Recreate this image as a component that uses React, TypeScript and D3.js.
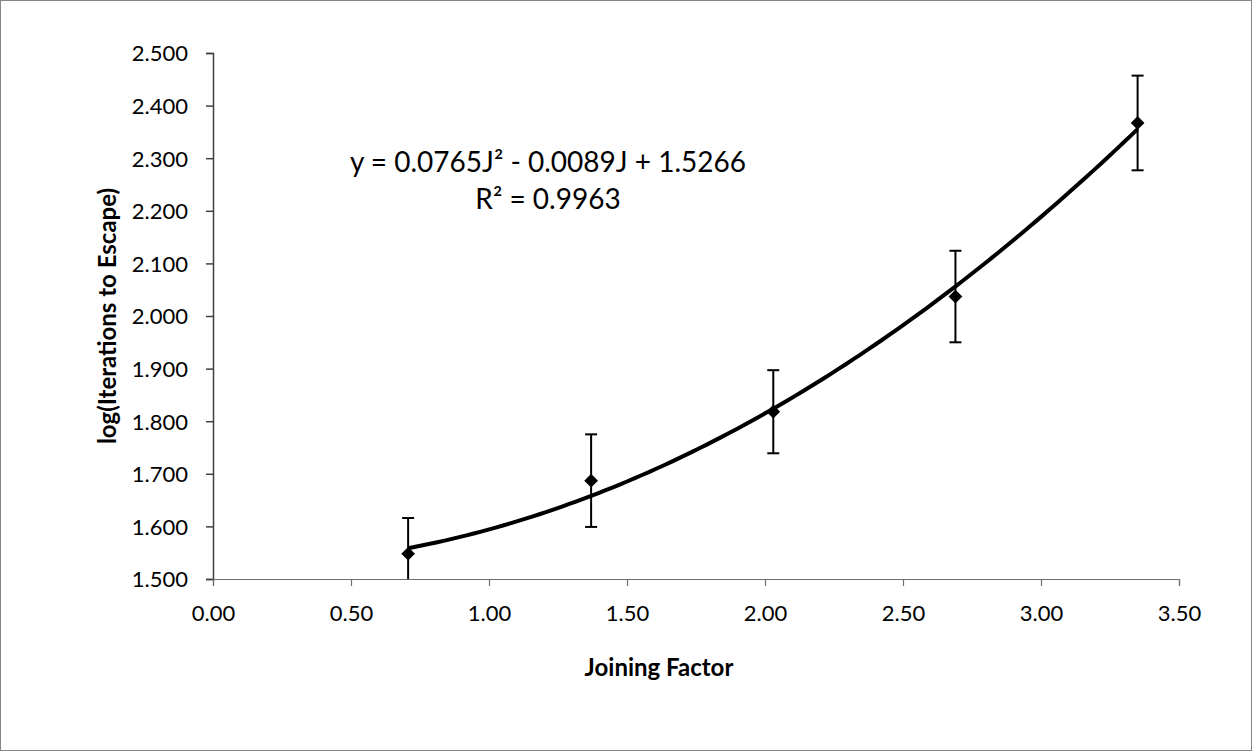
import React, { useEffect, useRef } from "react";
import * as d3 from "d3";

const joiningFactor = [0.707, 1.37, 2.03, 2.69, 3.35];
const logIterations = [1.548, 1.687, 1.818, 2.037, 2.367];
const errorAmount = [0.068, 0.088, 0.079, 0.087, 0.090];
const yTicks = [1.5, 1.6, 1.7, 1.8, 1.9, 2.0, 2.1, 2.2, 2.3, 2.4, 2.5];
const xTicks = [0, 0.5, 1.0, 1.5, 2.0, 2.5, 3.0, 3.5];
const trendCoefficients = [0.0765, -0.0089, 1.5266];

const W = 1253;
const H = 752;
const FONT = "Lato, 'Open Sans', sans-serif";

export default function App() {
  const ref = useRef<SVGSVGElement>(null);

  useEffect(() => {
    const svg = d3.select(ref.current);
    svg.selectAll("*").remove();

    const x = d3.scaleLinear().domain([0, 3.5]).range([213, 1179]);
    const y = d3.scaleLinear().domain([1.5, 2.5]).range([579, 53]);

    // chart frame
    svg.append("rect")
      .attr("x", 0.5).attr("y", 0.5)
      .attr("width", W - 2).attr("height", H - 2)
      .attr("fill", "white").attr("stroke", "#868686");

    // y axis
    const yAxis = d3.axisLeft(y).tickValues(yTicks).tickSize(7).tickFormat(d3.format(".3f"));
    const gy = svg.append("g").attr("transform", `translate(${x(0)},0)`).call(yAxis);
    gy.select(".domain").attr("stroke", "#404040").attr("stroke-width", 1.5);
    gy.selectAll(".tick line").attr("stroke", "#404040").attr("stroke-width", 1.5);
    gy.selectAll(".tick text")
      .attr("x", -25).attr("dy", "0.36em")
      .attr("font-family", FONT).attr("font-size", 22).attr("fill", "#000");

    // x axis
    const xAxis = d3.axisBottom(x).tickValues(xTicks).tickSize(7).tickFormat(d3.format(".2f"));
    const gx = svg.append("g").attr("transform", `translate(0,${y(1.5)})`).call(xAxis);
    gx.select(".domain").attr("stroke", "#6e6e6e").attr("stroke-width", 1.2);
    gx.selectAll(".tick line").attr("stroke", "#6e6e6e").attr("stroke-width", 1.2);
    gx.selectAll(".tick text")
      .attr("y", 26).attr("dy", "0.71em")
      .attr("font-family", FONT).attr("font-size", 22).attr("fill", "#000");

    // trend line (quadratic fit)
    const [a, b, c] = trendCoefficients;
    const xs = d3.range(0, 101).map((i) => joiningFactor[0] + (i / 100) * (joiningFactor[4] - joiningFactor[0]));
    const line = d3.line<number>().x((d) => x(d)).y((d) => y(a * d * d + b * d + c));
    svg.append("path")
      .datum(xs)
      .attr("d", line)
      .attr("fill", "none")
      .attr("stroke", "#000")
      .attr("stroke-width", 4);

    // error bars
    const data = joiningFactor.map((j, i) => ({ j, v: logIterations[i], e: errorAmount[i] }));
    const eb = svg.append("g").attr("stroke", "#000").attr("stroke-width", 2);
    data.forEach((d) => {
      const top = y(d.v + d.e);
      const bottom = y(Math.max(1.5, d.v - d.e));
      const cx = x(d.j);
      eb.append("line").attr("x1", cx).attr("x2", cx).attr("y1", top).attr("y2", bottom);
      eb.append("line").attr("x1", cx - 6).attr("x2", cx + 6).attr("y1", top).attr("y2", top);
      if (d.v - d.e >= 1.5) {
        eb.append("line").attr("x1", cx - 6).attr("x2", cx + 6).attr("y1", bottom).attr("y2", bottom);
      }
    });

    // diamond markers
    const diamond = d3.symbol().type(d3.symbolDiamond2).size(120);
    svg.append("g")
      .selectAll("path")
      .data(data)
      .join("path")
      .attr("d", diamond)
      .attr("transform", (d) => `translate(${x(d.j)},${y(d.v)})`)
      .attr("fill", "#000");

    // equation annotation
    svg.append("text")
      .attr("x", 548).attr("y", 172)
      .attr("text-anchor", "middle")
      .attr("font-family", FONT).attr("font-size", 28).attr("fill", "#000")
      .text("y = 0.0765J² - 0.0089J + 1.5266");
    svg.append("text")
      .attr("x", 548).attr("y", 209)
      .attr("text-anchor", "middle")
      .attr("font-family", FONT).attr("font-size", 28).attr("fill", "#000")
      .text("R² = 0.9963");

    // axis titles
    svg.append("text")
      .attr("x", 659).attr("y", 676)
      .attr("text-anchor", "middle")
      .attr("font-family", FONT).attr("font-size", 24).attr("font-weight", "bold")
      .text("Joining Factor");
    svg.append("text")
      .attr("transform", `translate(108,${(y(1.5) + y(2.5)) / 2}) rotate(-90)`)
      .attr("text-anchor", "middle")
      .attr("dy", "0.35em")
      .attr("font-family", FONT).attr("font-size", 24).attr("font-weight", "bold")
      .text("log(Iterations to Escape)");
  }, []);

  return (
    <svg
      ref={ref}
      width={W}
      height={H}
      style={{ position: "absolute", left: 0, top: 0, display: "block" }}
    />
  );
}
